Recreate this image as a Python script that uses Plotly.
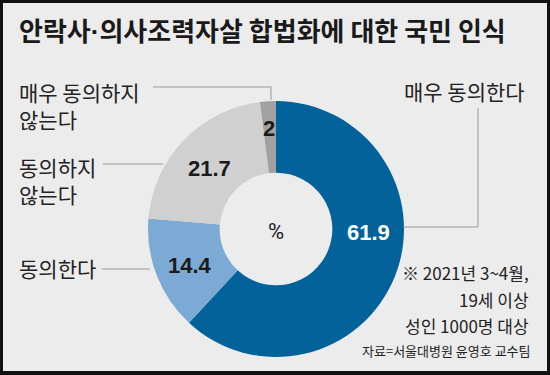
import math
import plotly.graph_objects as go

categories = ["매우 동의한다", "동의한다", "동의하지 않는다", "매우 동의하지 않는다"]
values = [61.9, 14.4, 21.7, 2]
value_labels = ["61.9", "14.4", "21.7", "2"]
colors = ["#04629b", "#7caad5", "#d0d0d0", "#a1a1a1"]
text_colors = ["#ffffff", "#1a1a1a", "#1a1a1a", "#1a1a1a"]

title_parts = ["안락사", "·", "의사조력자살 합법화에 대한 국민 인식"]
note_lines = ["※ 2021년 3~4월,", "19세 이상", "성인 1000명 대상"]
source = "자료=서울대병원 윤영호 교수팀"

W, H = 550, 375
BG = "#ececec"
FONT = "Noto Sans CJK KR"
NUMFONT = "Liberation Sans, Arial"


def px(x):
    return x / W


def py(y):
    return 1 - y / H


cx, cy, r = 276, 229, 128
hole = 0.44

fig = go.Figure(
    go.Pie(
        labels=categories,
        values=values,
        sort=False,
        direction="clockwise",
        rotation=0,
        hole=hole,
        marker=dict(colors=colors, line=dict(width=0)),
        textinfo="none",
        showlegend=False,
        hoverinfo="label+value",
        domain=dict(x=[px(cx - r), px(cx + r)], y=[py(cy + r), py(cy - r)]),
    )
)

title_html = (f"<b>{title_parts[0]}<span style=\"font-family:'Liberation Sans'\">{title_parts[1]}</span>"
              f"{title_parts[2]}</b>")

annotations = [
    dict(x=px(17), y=py(30), text=title_html, xanchor="left", yanchor="middle",
         font=dict(family=FONT, size=26, color="#1a1a1a")),
    dict(x=px(276), y=py(231), text="%", xanchor="center", yanchor="middle",
         font=dict(family="Roboto", size=22, color="#1a1a1a")),
    # category labels
    dict(x=px(527), y=py(91), text=categories[0], xanchor="right", yanchor="middle",
         font=dict(family=FONT, size=21, color="#222")),
    dict(x=px(17), y=py(268), text=categories[1], xanchor="left", yanchor="middle",
         font=dict(family=FONT, size=21, color="#222")),
    dict(x=px(17), y=py(180), text="동의하지<br>않는다", xanchor="left", yanchor="middle",
         align="left", font=dict(family=FONT, size=21, color="#222")),
    dict(x=px(17), y=py(105), text="매우 동의하지<br>않는다", xanchor="left", yanchor="middle",
         align="left", font=dict(family=FONT, size=21, color="#222")),
]

# value labels placed along the ring from the data (cumulative angles, clockwise from top)
label_angle_override = {0: 90.0}
label_radius = {3: 104}
total = sum(values)
cum = 0.0
for i, (v, t, c) in enumerate(zip(values, value_labels, text_colors)):
    mid = (cum + v / 2) / total * 360.0
    cum += v
    ang = math.radians(label_angle_override.get(i, mid))
    rr = label_radius.get(i, 92)
    lx = cx + rr * math.sin(ang)
    ly = cy - rr * math.cos(ang)
    annotations.append(dict(x=px(lx), y=py(ly + 3), text=f"<b>{t}</b>", xanchor="center",
                            yanchor="middle",
                            font=dict(family=NUMFONT, size=22, color=c)))

note_y = [272, 299, 325]
for t, yy in zip(note_lines, note_y):
    annotations.append(dict(x=px(531), y=py(yy), text=t, xanchor="right", yanchor="middle",
                            font=dict(family=FONT, size=17, color="#222")))
annotations.append(dict(x=px(533), y=py(350), text=source, xanchor="right", yanchor="middle",
                        font=dict(family=FONT, size=13, color="#222")))
for a in annotations:
    a.update(xref="paper", yref="paper", showarrow=False)

line_style = dict(color="#999999", width=1)
shapes = [
    # inner background panel (black frame shows around it)
    dict(type="rect", x0=px(3), y0=py(371), x1=px(547), y1=py(3), layer="below",
         fillcolor=BG, line=dict(width=0)),
    # leader lines
    dict(type="path", path=f"M {px(478)},{py(108)} L {px(478)},{py(227)} L {px(403)},{py(227)}",
         line=line_style),
    dict(type="path", path=f"M {px(153)},{py(87)} L {px(271)},{py(87)} L {px(271)},{py(100)}",
         line=line_style),
    dict(type="line", x0=px(103), y0=py(164), x1=px(163), y1=py(164), line=line_style),
    dict(type="line", x0=px(102), y0=py(269), x1=px(150), y1=py(269), line=line_style),
]
for s in shapes:
    s.update(xref="paper", yref="paper")

fig.update_layout(
    width=W, height=H,
    margin=dict(l=0, r=0, t=0, b=0),
    paper_bgcolor="#111111", plot_bgcolor="rgba(0,0,0,0)",
    annotations=annotations,
    shapes=shapes,
)

fig.write_html("out.html", config={"displayModeBar": False},
               post_script="document.body.style.margin='0';document.body.style.padding='0';")
